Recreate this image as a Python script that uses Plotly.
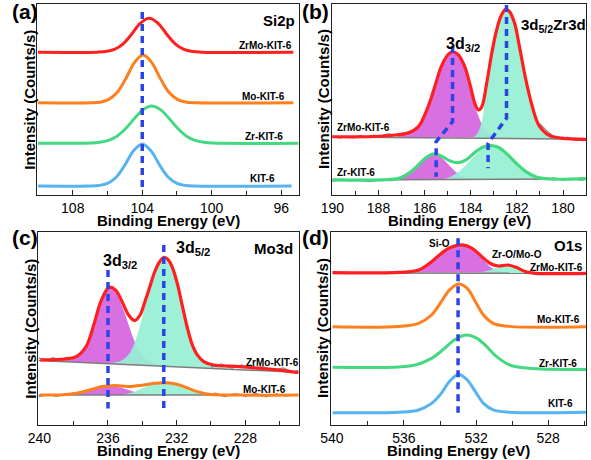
import plotly.graph_objects as go

W, H = 591, 460
FONT = "Arial, 'Liberation Sans', Helvetica, sans-serif"

# ---------------- data: (a) Si2p ----------------
A_KIT_X = [110, 107, 106.5, 106, 105.5, 105, 104.5, 104, 103.5, 103, 102.5, 102, 101.5, 101, 95.4]
A_KIT_Y = [4.7, 4.7, 5.0, 6.1, 9.3, 15.7, 23.2, 26.7, 23.2, 15.7, 9.3, 6.1, 5.0, 4.7, 4.7]
A_ZR_X = [110, 107.45, 106.95, 106.45, 105.95, 105.45, 104.95, 104.45, 103.95, 103.45, 102.95,
          102.45, 101.95, 101.45, 100.95, 100.45, 99.95, 95]
A_ZR_Y = [27.1, 27.1, 27.2, 27.6, 28.6, 30.8, 34.8, 40.0, 44.7, 46.6, 44.7, 40.0, 34.8, 30.8,
          28.6, 27.6, 27.2, 27.1]
A_MO_X = [110, 106.95, 106.45, 105.95, 105.45, 104.95, 104.45, 103.95, 103.45, 102.95, 102.45,
          101.95, 101.45, 100.95, 95.3]
A_MO_Y = [48.3, 48.3, 48.6, 49.9, 53.6, 60.8, 69.3, 73.3, 69.3, 60.8, 53.6, 49.9, 48.6, 48.3, 48.3]
A_ZRMO_X = [110, 106.6, 106.1, 105.6, 105.1, 104.6, 104.1, 103.6, 103.1, 102.6, 102.1, 101.6,
            101.1, 100.6, 95.3]
A_ZRMO_Y = [74.7, 74.8, 75.1, 76.2, 79.1, 84.3, 90.0, 92.5, 90.0, 84.3, 79.1, 76.2, 75.1, 74.8, 74.7]
A_DASH_X = [104.0, 104.0]
A_DASH_Y = [95.8, 3.7]

# ---------------- data: (b) Zr3d ----------------
B_ZRMO_X = [190.0, 188.53, 187.26, 186.69, 186.27, 185.85, 185.56, 185.28, 185.0, 184.79, 184.58,
            184.29, 184.01, 183.80, 183.66, 183.52, 183.31, 183.09, 182.88, 182.67, 182.49,
            182.32, 182.10, 181.89, 181.61, 181.33, 181.05, 180.62, 180.06, 179.0]
B_ZRMO_Y = [30.5, 30.5, 31.4, 32.6, 35.8, 46.2, 56.7, 67.2, 73.3, 75.0, 73.8, 68.1, 56.7, 47.1,
            44.5, 46.2, 58.5, 74.2, 86.4, 94.2, 97.2, 96.0, 89.9, 77.7, 60.2, 46.2, 36.6, 31.4,
            29.8, 29.1]
B_ZRMO_RAW_L_X = [190.0, 189.7, 189.4, 189.1, 188.8, 188.5, 188.2, 187.9, 187.6, 187.3, 187.0, 186.7]
B_ZRMO_RAW_L_Y = [30.9, 29.8, 30.6, 29.9, 31.0, 30.3, 31.3, 30.8, 32.0, 31.6, 32.2, 32.9]
B_ZRMO_RAW_R_X = [181.0, 180.7, 180.4, 180.1, 179.8, 179.5, 179.2, 179.0]
B_ZRMO_RAW_R_Y = [37.2, 33.5, 30.6, 29.1, 30.3, 28.7, 29.6, 28.5]
B_ZRMO_BG_X = [190.0, 179.0]
B_ZRMO_BG_Y = [30.4, 29.2]
B_ZRMO_P1_X = [187.3, 186.69, 186.27, 185.85, 185.56, 185.28, 185.0, 184.79, 184.58, 184.29,
               184.01, 183.80, 183.55, 183.30, 183.0, 182.6]
B_ZRMO_P1_Y = [30.2, 32.4, 35.6, 46.0, 56.5, 67.0, 73.1, 74.8, 73.5, 67.5, 56.5, 46.0, 38.0,
               33.5, 31.0, 30.0]
B_ZRMO_P2_X = [184.0, 183.8, 183.66, 183.52, 183.31, 183.09, 182.88, 182.67, 182.49, 182.32,
               182.10, 181.89, 181.61, 181.33, 181.05, 180.62, 180.06, 179.6]
B_ZRMO_P2_Y = [29.8, 31.0, 33.5, 38.7, 55.0, 71.5, 85.5, 94.0, 97.0, 95.8, 89.7, 77.5, 60.0,
               46.0, 36.4, 31.2, 29.6, 29.3]
B_ZR_X = [190.0, 187.82, 187.12, 186.69, 186.27, 185.92, 185.59, 185.28, 184.93, 184.58, 184.22,
          183.87, 183.52, 183.16, 182.81, 182.46, 182.03, 181.61, 181.19, 180.62, 179.0]
B_ZR_Y = [7.9, 7.9, 8.7, 11.3, 15.7, 19.7, 21.5, 20.4, 18.0, 16.9, 18.3, 21.8, 24.8, 25.8, 25.0,
          21.8, 16.6, 12.2, 9.6, 8.4, 8.6]
B_ZR_RAW_L_X = [190.0, 189.6, 189.2, 188.8, 188.4, 188.0, 187.6]
B_ZR_RAW_L_Y = [7.2, 8.3, 7.4, 8.1, 7.0, 7.9, 8.2]
B_ZR_RAW_R_X = [181.2, 180.8, 180.4, 180.0, 179.6, 179.2, 179.0]
B_ZR_RAW_R_Y = [9.0, 8.2, 8.9, 7.8, 8.6, 7.7, 8.3]
B_ZR_BG_X = [190.0, 179.0]
B_ZR_BG_Y = [7.9, 8.4]
B_ZR_P1_X = [187.6, 187.12, 186.69, 186.27, 185.92, 185.59, 185.28, 184.93, 184.58, 184.22,
             183.87, 183.5]
B_ZR_P1_Y = [7.9, 8.6, 11.2, 15.5, 19.5, 21.2, 19.6, 15.5, 11.5, 9.0, 8.1, 8.0]
B_ZR_P2_X = [185.3, 184.93, 184.58, 184.22, 183.87, 183.52, 183.16, 182.81, 182.46, 182.03,
             181.61, 181.19, 180.62, 180.2]
B_ZR_P2_Y = [8.1, 9.3, 11.8, 15.5, 20.0, 24.0, 25.6, 24.8, 21.6, 16.4, 12.0, 9.4, 8.3, 8.3]
B_DASH1_X = [184.79, 184.79, 185.5, 185.5]
B_DASH1_Y = [78.0, 38.4, 27.9, 9.6]
B_DASH2_X = [182.45, 182.45, 183.25, 183.25]
B_DASH2_Y = [99.5, 40.2, 27.1, 14.0]

# ---------------- data: (c) Mo3d ----------------
C_ZRMO_X = [239.94, 238.8, 237.85, 237.28, 236.8, 236.42, 235.94, 235.56, 235.18, 234.8, 234.46,
            234.13, 233.85, 233.56, 233.28, 232.99, 232.74, 232.51, 232.23, 231.94, 231.66,
            231.37, 231.09, 230.8, 230.42, 229.85, 228.32, 226.42, 224.9]
C_ZRMO_Y = [33.7, 34.0, 35.4, 40.6, 52.7, 63.9, 71.3, 69.9, 63.9, 57.0, 54.1, 57.0, 63.9, 71.7,
            79.4, 84.6, 86.9, 85.8, 81.2, 72.5, 61.3, 50.1, 41.5, 36.3, 32.8, 31.1, 30.2, 28.8,
            27.1]
C_ZRMO_RAW_L_X = [240.05, 239.6, 239.2, 238.8, 238.4, 238.0]
C_ZRMO_RAW_L_Y = [34.8, 33.5, 34.9, 33.6, 35.0, 34.9]
C_ZRMO_RAW_R_X = [230.0, 229.4, 228.8, 228.2, 227.6, 227.0, 226.4, 225.8, 225.2, 224.9]
C_ZRMO_RAW_R_Y = [30.0, 31.7, 29.4, 31.1, 28.9, 30.4, 28.2, 29.6, 27.4, 28.5]
C_ZRMO_BG_X = [240.05, 224.9]
C_ZRMO_BG_Y = [33.4, 27.3]
C_ZRMO_P1_X = [238.8, 237.85, 237.28, 236.8, 236.42, 235.94, 235.56, 235.18, 234.8, 234.46,
               234.13, 233.7, 233.2, 232.6]
C_ZRMO_P1_Y = [33.0, 35.2, 40.4, 52.5, 63.7, 71.1, 69.0, 61.5, 52.0, 43.5, 37.5, 33.5, 31.5, 30.5]
C_ZRMO_P2_X = [236.3, 235.7, 235.18, 234.8, 234.46, 234.13, 233.85, 233.56, 233.28, 232.99,
               232.74, 232.51, 232.23, 231.94, 231.66, 231.37, 231.09, 230.8, 230.42, 229.85,
               229.0]
C_ZRMO_P2_Y = [32.0, 32.3, 33.5, 36.5, 42.4, 51.5, 61.5, 71.0, 79.2, 84.4, 86.7, 85.6, 81.0,
               72.3, 61.1, 49.9, 41.3, 36.1, 32.6, 30.9, 29.0]
C_MO_X = [239.94, 238.61, 237.85, 237.09, 236.32, 235.75, 235.18, 234.61, 234.04, 233.28, 232.7,
          232.13, 231.56, 230.99, 230.23, 228.32, 224.9]
C_MO_Y = [15.5, 15.7, 16.4, 18.1, 19.9, 20.4, 20.2, 20.0, 20.6, 21.6, 21.9, 21.4, 19.9, 17.8,
          16.1, 15.5, 15.5]
C_MO_RAW_L_X = [240.05, 239.5, 239.0, 238.5]
C_MO_RAW_L_Y = [14.6, 15.9, 14.8, 16.0]
C_MO_RAW_R_X = [229.8, 229.2, 228.6, 228.0, 227.4, 226.8, 226.2, 225.6, 224.9]
C_MO_RAW_R_Y = [16.6, 14.7, 16.2, 14.9, 16.4, 14.6, 16.1, 15.0, 15.9]
C_MO_BG_X = [240.05, 224.9]
C_MO_BG_Y = [15.5, 15.5]
C_MO_P1_X = [238.3, 237.5, 236.8, 236.2, 235.75, 235.2, 234.6, 234.0, 233.4]
C_MO_P1_Y = [15.6, 16.6, 18.4, 19.8, 20.2, 19.3, 17.5, 16.0, 15.5]
C_MO_P2_X = [235.2, 234.6, 234.04, 233.4, 232.8, 232.13, 231.56, 230.99, 230.23, 229.6]
C_MO_P2_Y = [15.6, 16.8, 18.9, 21.0, 21.7, 21.2, 19.7, 17.7, 15.9, 15.5]
C_DASH1_X = [236.0, 236.0]
C_DASH1_Y = [80.3, 8.6]
C_DASH2_X = [232.75, 232.75]
C_DASH2_Y = [93.3, 8.6]

# ---------------- data: (d) O1s ----------------
D_KIT_X = [539.96, 536.27, 535.19, 534.47, 533.93, 533.48, 532.97, 532.49, 532.04, 531.59, 531.05,
           530.14, 525.9]
D_KIT_Y = [6.4, 6.6, 7.8, 11.2, 16.4, 22.5, 26.3, 23.3, 17.3, 11.2, 7.8, 6.6, 6.6]
D_ZR_X = [539.96, 536.27, 535.37, 534.47, 533.75, 533.21, 532.58, 531.95, 531.41, 530.86, 530.14,
          529.06, 525.9]
D_ZR_Y = [29.9, 30.1, 31.1, 34.5, 39.7, 44.0, 46.6, 44.9, 40.6, 35.4, 31.1, 29.4, 28.8]
D_MO_X = [539.96, 536.27, 535.19, 534.47, 533.93, 533.48, 532.97, 532.49, 532.04, 531.59, 531.05,
          530.14, 525.9]
D_MO_Y = [50.9, 51.1, 52.7, 57.0, 63.9, 69.9, 73.1, 70.8, 63.9, 57.0, 52.7, 51.1, 50.9]
D_ZRMO_X = [539.96, 536.27, 535.19, 534.47, 533.93, 533.39, 532.76, 532.22, 531.68, 531.23,
            530.77, 530.23, 529.78, 529.24, 528.70, 525.9]
D_ZRMO_Y = [78.9, 79.1, 80.3, 84.6, 88.9, 92.1, 93.3, 91.5, 87.2, 83.8, 82.4, 82.9, 81.7, 79.4,
            78.6, 78.6]
D_ZRMO_BG_X = [539.96, 525.9]
D_ZRMO_BG_Y = [78.8, 78.6]
D_ZRMO_P1_X = [535.6, 535.19, 534.47, 533.93, 533.39, 532.76, 532.22, 531.68, 531.23, 530.77, 530.2]
D_ZRMO_P1_Y = [79.0, 80.3, 84.6, 88.9, 92.1, 93.3, 91.4, 86.5, 82.0, 79.8, 79.0]
D_ZRMO_P2_X = [531.9, 531.4, 530.9, 530.3, 529.78, 529.24, 528.7]
D_ZRMO_P2_Y = [78.9, 79.8, 81.5, 82.8, 81.7, 79.4, 78.7]
D_DASH_X = [533.0, 533.0]
D_DASH_Y = [96.7, 6.4]

# axis ranges and ticks
X_RANGES = {"a": [110.03, 95.0], "b": [190.02, 179.0], "c": [240.05, 224.9], "d": [540.05, 525.9]}
X_DTICK = {"a": (4, 2), "b": (2, 1), "c": (4, 2), "d": (4, 2)}
X_TITLE = "Binding Energy (eV)"
Y_TITLE = "Intensity (Counts/s)"

# ---------------- styling ----------------
RED = "#ff1f1f"
ORANGE = "#ff7f1e"
GREEN = "#44d981"
LBLUE = "#55b4f0"
DBLUE = "#2a44e6"
MAGENTA = "rgba(213,100,224,0.92)"
MINT = "rgba(150,240,210,0.92)"
GRAY = "#7d7d7d"
RAWGRAY = "#8c8c8c"

# panel boxes in pixels: left, right, top, bottom
BOX = {"a": (27, 293, 4, 195), "b": (327, 586, 4, 195),
       "c": (28, 293, 232, 425), "d": (326, 586, 232, 425)}
AX = {"a": "", "b": "2", "c": "3", "d": "4"}

fig = go.Figure()


def line(p, x, y, color, w, dash=None, shape="spline"):
    fig.add_trace(go.Scatter(
        x=x, y=y, mode="lines", hoverinfo="skip", showlegend=False,
        line=dict(color=color, width=w, shape=shape, smoothing=1.0, dash=dash),
        xaxis="x" + AX[p], yaxis="y" + AX[p]))


def area(p, x, y, color):
    fig.add_trace(go.Scatter(
        x=x, y=y, mode="lines", fill="toself", fillcolor=color, hoverinfo="skip",
        showlegend=False, line=dict(width=0, shape="spline", smoothing=1.0, color=color),
        xaxis="x" + AX[p], yaxis="y" + AX[p]))


DASHSTYLE = "7px,5px"

# (a)
line("a", A_KIT_X, A_KIT_Y, LBLUE, 3)
line("a", A_ZR_X, A_ZR_Y, GREEN, 3)
line("a", A_MO_X, A_MO_Y, ORANGE, 3)
line("a", A_ZRMO_X, A_ZRMO_Y, RED, 3)
line("a", A_DASH_X, A_DASH_Y, DBLUE, 3.5, DASHSTYLE, "linear")

# (b)
area("b", B_ZRMO_P1_X, B_ZRMO_P1_Y, MAGENTA)
area("b", B_ZRMO_P2_X, B_ZRMO_P2_Y, MINT)
area("b", B_ZR_P1_X, B_ZR_P1_Y, MAGENTA)
area("b", B_ZR_P2_X, B_ZR_P2_Y, MINT)
line("b", B_ZRMO_BG_X, B_ZRMO_BG_Y, GRAY, 1.5, shape="linear")
line("b", B_ZR_BG_X, B_ZR_BG_Y, GRAY, 1.5, shape="linear")
line("b", B_ZRMO_RAW_L_X, B_ZRMO_RAW_L_Y, RAWGRAY, 1.3, shape="linear")
line("b", B_ZRMO_RAW_R_X, B_ZRMO_RAW_R_Y, RAWGRAY, 1.3, shape="linear")
line("b", B_ZR_RAW_L_X, B_ZR_RAW_L_Y, RAWGRAY, 1.3, shape="linear")
line("b", B_ZR_RAW_R_X, B_ZR_RAW_R_Y, RAWGRAY, 1.3, shape="linear")
line("b", B_ZRMO_X, B_ZRMO_Y, RED, 3.2)
line("b", B_ZR_X, B_ZR_Y, GREEN, 3.2)
line("b", B_DASH1_X, B_DASH1_Y, DBLUE, 3.5, DASHSTYLE, "linear")
line("b", B_DASH2_X, B_DASH2_Y, DBLUE, 3.5, DASHSTYLE, "linear")

# (c)
area("c", C_ZRMO_P1_X, C_ZRMO_P1_Y, MAGENTA)
area("c", C_ZRMO_P2_X, C_ZRMO_P2_Y, MINT)
area("c", C_MO_P1_X, C_MO_P1_Y, MAGENTA)
area("c", C_MO_P2_X, C_MO_P2_Y, MINT)
line("c", C_ZRMO_BG_X, C_ZRMO_BG_Y, GRAY, 1.5, shape="linear")
line("c", C_MO_BG_X, C_MO_BG_Y, GRAY, 1.5, shape="linear")
line("c", C_ZRMO_RAW_L_X, C_ZRMO_RAW_L_Y, RAWGRAY, 1.3, shape="linear")
line("c", C_ZRMO_RAW_R_X, C_ZRMO_RAW_R_Y, RAWGRAY, 1.3, shape="linear")
line("c", C_MO_RAW_L_X, C_MO_RAW_L_Y, RAWGRAY, 1.3, shape="linear")
line("c", C_MO_RAW_R_X, C_MO_RAW_R_Y, RAWGRAY, 1.3, shape="linear")
line("c", C_ZRMO_X, C_ZRMO_Y, RED, 3.2)
line("c", C_MO_X, C_MO_Y, ORANGE, 3)
line("c", C_DASH1_X, C_DASH1_Y, DBLUE, 3.5, DASHSTYLE, "linear")
line("c", C_DASH2_X, C_DASH2_Y, DBLUE, 3.5, DASHSTYLE, "linear")

# (d)
area("d", D_ZRMO_P1_X, D_ZRMO_P1_Y, MAGENTA)
area("d", D_ZRMO_P2_X, D_ZRMO_P2_Y, MINT)
line("d", D_ZRMO_BG_X, D_ZRMO_BG_Y, GRAY, 1.5, shape="linear")
line("d", D_KIT_X, D_KIT_Y, LBLUE, 3)
line("d", D_ZR_X, D_ZR_Y, GREEN, 3)
line("d", D_MO_X, D_MO_Y, ORANGE, 3)
line("d", D_ZRMO_X, D_ZRMO_Y, RED, 3.2)
line("d", D_DASH_X, D_DASH_Y, DBLUE, 3.5, DASHSTYLE, "linear")

layout = dict(
    width=W, height=H, margin=dict(l=0, r=0, t=0, b=0),
    paper_bgcolor="white", plot_bgcolor="white",
    font=dict(family=FONT, color="black"), showlegend=False,
)
for p, (l, r, t, b) in BOX.items():
    k = AX[p]
    major, minor = X_DTICK[p]
    layout["xaxis" + k] = dict(
        domain=[l / W, r / W], range=X_RANGES[p], anchor="y" + k,
        showgrid=False, zeroline=False, showline=True, linecolor="#222", linewidth=1.2,
        mirror=True, ticks="inside", ticklen=5, tickwidth=1.2, tickcolor="#222",
        dtick=major, tick0=0, tickfont=dict(size=14, family=FONT, color="black"),
        minor=dict(ticks="inside", ticklen=4, dtick=minor, tick0=0, tickcolor="#222"),
        fixedrange=True)
    layout["yaxis" + k] = dict(
        domain=[1 - b / H, 1 - t / H], range=[0, 100], anchor="x" + k,
        showgrid=False, zeroline=False, showline=True, linecolor="#222", linewidth=1.2,
        mirror=True, ticks="", showticklabels=False, fixedrange=True)

ann = []


def txt(p, x, y, s, size=10, anchor="center", bold=True):
    ann.append(dict(x=x, y=y, xref="x" + AX[p], yref="y" + AX[p], text=f"<b>{s}</b>" if bold else s,
                    showarrow=False, xanchor=anchor, yanchor="middle",
                    font=dict(size=size, family=FONT, color="black")))


def ptxt(px, py, s, size, angle=0):
    ann.append(dict(x=px / W, y=1 - py / H, xref="paper", yref="paper", text=f"<b>{s}</b>",
                    showarrow=False, xanchor="center", yanchor="middle", textangle=angle,
                    font=dict(size=size, family=FONT, color="black")))


# panel-level labels
for p, (l, r, t, b) in BOX.items():
    ptxt((l + r) / 2, b + 25, X_TITLE, 15)
    ptxt(l - 8.5, (t + b) / 2, Y_TITLE, 15, -90)
ptxt(14, 12, "(a)", 21)
ptxt(310, 12, "(b)", 21)
ptxt(14, 237, "(c)", 21)
ptxt(310, 237, "(d)", 21)

# (a) labels
txt("a", 96.12, 91.6, "Si2p", 15)
txt("a", 96.9, 78.5, "ZrMo-KIT-6")
txt("a", 97.0, 51.5, "Mo-KIT-6")
txt("a", 97.0, 30.5, "Zr-KIT-6")
txt("a", 97.1, 8.4, "KIT-6")

# (b) labels
txt("b", 189.87, 35.4, "ZrMo-KIT-6", anchor="left")
txt("b", 189.87, 11.8, "Zr-KIT-6", anchor="left")
txt("b", 185.14, 79.0, "3d<sub>3/2</sub>", 16, anchor="left")
txt("b", 181.92, 88.5, "3d<sub>5/2</sub>Zr3d", 15, anchor="left")

# (c) labels
txt("c", 236.42, 84.5, "3d<sub>3/2</sub>", 16, anchor="left")
txt("c", 232.13, 91.5, "3d<sub>5/2</sub>", 16, anchor="left")
txt("c", 226.34, 91.5, "Mo3d", 15)
txt("c", 226.42, 32.4, "ZrMo-KIT-6")
txt("c", 226.86, 18.6, "Mo-KIT-6")

# (d) labels
txt("d", 534.02, 94.0, "Si-O")
txt("d", 529.74, 88.1, "Zr-O/Mo-O")
txt("d", 527.53, 81.8, "ZrMo-KIT-6")
txt("d", 526.9, 93.0, "O1s", 15)
txt("d", 527.44, 54.9, "Mo-KIT-6")
txt("d", 527.44, 32.0, "Zr-KIT-6")
txt("d", 527.31, 10.9, "KIT-6")

layout["annotations"] = ann
fig.update_layout(**layout)
fig.write_html("out.html", config={"displayModeBar": False},
               post_script="document.body.style.margin='0px';document.body.style.overflow='hidden';")
